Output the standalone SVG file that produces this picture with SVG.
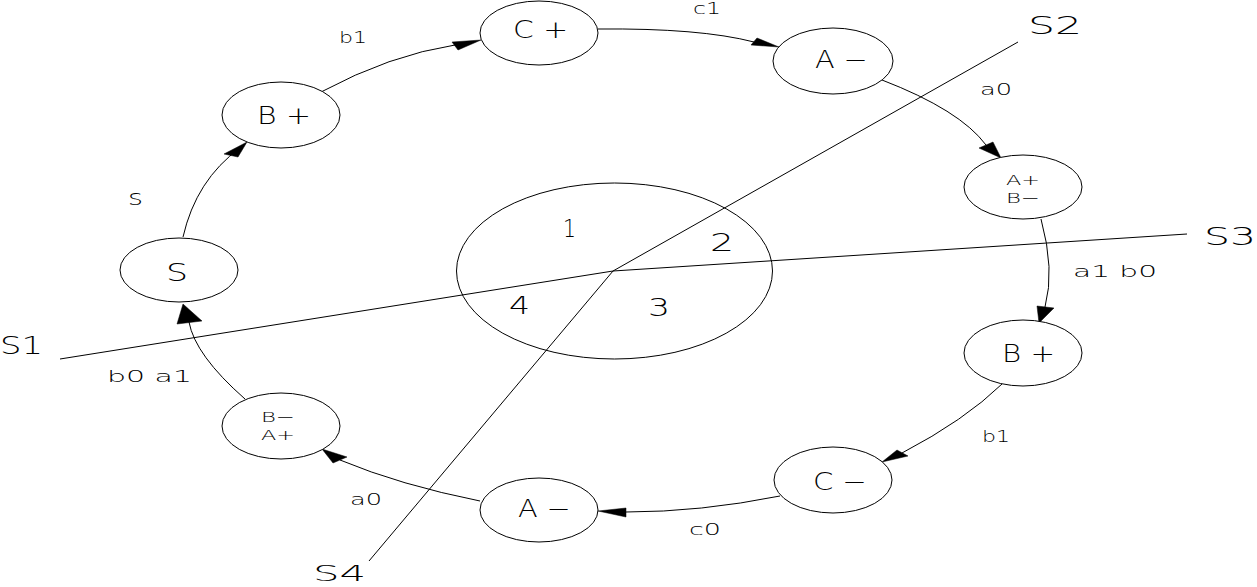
<svg xmlns="http://www.w3.org/2000/svg" width="1257" height="587" viewBox="0 0 1257 587">
<style>
  .n { fill: #fff; stroke: #000; stroke-width: 1; }
  .c { fill: none; stroke: #000; stroke-width: 1; }
  .a { fill: #000; stroke: #000; stroke-width: 0.5; }
  text { font-family: "DejaVu Sans", "Liberation Sans", sans-serif; font-weight: 200; fill: #000; }
  .big { font-size: 25px; }
  .sm { font-size: 15px; }
  .st { font-size: 14px; }
</style>
<rect width="1257" height="587" fill="#fff"/>

<g id="sectors">
  <ellipse class="c" cx="614.5" cy="271" rx="158" ry="88"/>
  <line class="c" x1="60" y1="359" x2="613" y2="271"/>
  <line class="c" x1="613" y1="271" x2="1187" y2="234"/>
  <line class="c" x1="613" y1="271" x2="1018" y2="42"/>
  <line class="c" x1="613" y1="271" x2="369" y2="561"/>
  <text class="big" x="0" y="354" textLength="43" lengthAdjust="spacingAndGlyphs">S1</text>
  <text class="big" x="1028" y="34" textLength="54" lengthAdjust="spacingAndGlyphs">S2</text>
  <text class="big" x="1204" y="245" textLength="52" lengthAdjust="spacingAndGlyphs">S3</text>
  <text class="big" x="313" y="581" textLength="53" lengthAdjust="spacingAndGlyphs" style="font-size:22px">S4</text>
  <text class="big" x="563" y="237" textLength="13" lengthAdjust="spacingAndGlyphs">1</text>
  <text class="big" x="710" y="251" textLength="24" lengthAdjust="spacingAndGlyphs">2</text>
  <text class="big" x="648" y="316" textLength="22" lengthAdjust="spacingAndGlyphs">3</text>
  <text class="big" x="509" y="314" textLength="21" lengthAdjust="spacingAndGlyphs">4</text>
</g>

<g id="connectors">
  <path class="c" d="M183,237 Q196,180 240,148"/>
  <polygon class="a" points="247,142 224,154 238,157"/>
  <path class="c" d="M321,92 Q390,55 455,45"/>
  <polygon class="a" points="481,40 452,42 458,50"/>
  <path class="c" d="M598,29 Q700,28 754,42"/>
  <polygon class="a" points="779,47 751,45 757,38"/>
  <path class="c" d="M882,80 Q960,110 986,145"/>
  <polygon class="a" points="1001,158 979,148 993,142"/>
  <path class="c" d="M1041,219 Q1055,270 1045,307"/>
  <polygon class="a" points="1039,323 1037,306 1054,308"/>
  <path class="c" d="M1002,384 Q965,420 902,453"/>
  <polygon class="a" points="882,462 897,450 908,456"/>
  <path class="c" d="M780,496 Q700,512 626,512"/>
  <polygon class="a" points="598,511 626,508 626,517"/>
  <path class="c" d="M480,501 Q400,485 340,460"/>
  <polygon class="a" points="322,449 333,463 347,457"/>
  <path class="c" d="M245,399 Q195,355 189,322"/>
  <polygon class="a" points="183,304 177,324 202,321"/>
  <text class="sm" x="339" y="43" textLength="28" lengthAdjust="spacingAndGlyphs">b1</text>
  <text class="sm" x="693" y="14" textLength="28" lengthAdjust="spacingAndGlyphs">c1</text>
  <text class="sm" x="980" y="95" textLength="32" lengthAdjust="spacingAndGlyphs">a0</text>
  <text class="sm" x="1073" y="277" textLength="84" lengthAdjust="spacingAndGlyphs">a1  b0</text>
  <text class="sm" x="982" y="442" textLength="28" lengthAdjust="spacingAndGlyphs">b1</text>
  <text class="sm" x="689" y="535" textLength="32" lengthAdjust="spacingAndGlyphs">c0</text>
  <text class="sm" x="350" y="505" textLength="32" lengthAdjust="spacingAndGlyphs">a0</text>
  <text class="sm" x="107" y="382" textLength="85" lengthAdjust="spacingAndGlyphs">b0  a1</text>
  <text class="sm" x="128" y="205" textLength="15" lengthAdjust="spacingAndGlyphs" style="font-size:22px">s</text>
</g>

<g id="node-s">
  <ellipse class="n" cx="179" cy="270" rx="59" ry="32"/>
  <text class="big" x="166" y="281" textLength="22" lengthAdjust="spacingAndGlyphs">S</text>
</g>
<g id="node-bplus-left">
  <ellipse class="n" cx="281" cy="115" rx="59" ry="33"/>
  <text class="big" x="257" y="124" textLength="54" lengthAdjust="spacingAndGlyphs">B +</text>
</g>
<g id="node-cplus">
  <ellipse class="n" cx="539" cy="33" rx="59" ry="32"/>
  <text class="big" x="513" y="38" textLength="55" lengthAdjust="spacingAndGlyphs">C +</text>
</g>
<g id="node-aminus-top">
  <ellipse class="n" cx="833" cy="61" rx="60" ry="33"/>
  <text class="big" x="815" y="68" textLength="53" lengthAdjust="spacingAndGlyphs">A −</text>
</g>
<g id="node-aplus-bminus">
  <ellipse class="n" cx="1023" cy="187" rx="59" ry="32"/>
  <text class="st" x="1006" y="185" textLength="34" lengthAdjust="spacingAndGlyphs">A+</text>
  <text class="st" x="1006" y="203" textLength="34" lengthAdjust="spacingAndGlyphs">B−</text>
</g>
<g id="node-bplus-right">
  <ellipse class="n" cx="1023" cy="353" rx="59" ry="33"/>
  <text class="big" x="1002" y="362" textLength="53" lengthAdjust="spacingAndGlyphs">B +</text>
</g>
<g id="node-cminus">
  <ellipse class="n" cx="833" cy="480" rx="59" ry="33"/>
  <text class="big" x="813" y="490" textLength="54" lengthAdjust="spacingAndGlyphs">C −</text>
</g>
<g id="node-aminus-bottom">
  <ellipse class="n" cx="539" cy="510" rx="59" ry="32"/>
  <text class="big" x="518" y="517" textLength="53" lengthAdjust="spacingAndGlyphs">A −</text>
</g>
<g id="node-bminus-aplus">
  <ellipse class="n" cx="281" cy="426" rx="59" ry="33"/>
  <text class="st" x="261" y="422" textLength="34" lengthAdjust="spacingAndGlyphs">B−</text>
  <text class="st" x="261" y="440" textLength="34" lengthAdjust="spacingAndGlyphs">A+</text>
</g>
</svg>
